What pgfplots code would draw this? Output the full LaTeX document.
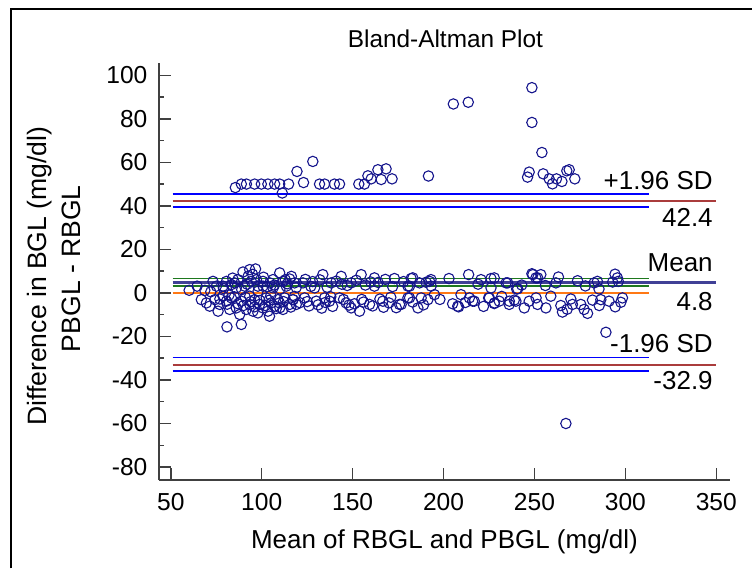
\documentclass[border=0pt]{standalone}
\usepackage{fontspec}
\setmainfont{Liberation Sans}
\usepackage{pgfplots}
\pgfplotsset{compat=1.18}
\definecolor{ptcol}{RGB}{20,20,140}
\definecolor{loacol}{RGB}{170,60,60}
\definecolor{cicol}{RGB}{0,0,255}
\definecolor{mcicol}{RGB}{30,120,30}
\definecolor{meancol}{RGB}{64,64,150}
\definecolor{zerocol}{RGB}{255,120,20}
\definecolor{axcol}{RGB}{64,64,64}
\begin{document}
\begin{tikzpicture}
\begin{scope}[x=0.5pt,y=-0.5pt]
\useasboundingbox (0,0) rectangle (753,569);
\end{scope}
\begin{axis}[
  at={(79.5pt,-240.35pt)}, anchor=south west,
  scale only axis, width=285.85pt, height=209pt,
  xmin=43.4, xmax=357.4, ymin=-86, ymax=105.8,
  axis lines=left, axis line style={-, draw=axcol, line width=0.75pt},
  tick align=inside, major tick length=6pt, minor tick length=2.5pt,
  tick style={draw=axcol, line width=0.75pt},
  xtick={50,100,150,200,250,300,350}, xticklabels={50,100,150,200,250,300,350},
  ytick={-80,-60,-40,-20,0,20,40,60,80,100}, yticklabels={-80,-60,-40,-20,0,20,40,60,80,100},
  minor ytick={-70,-50,-30,-10,10,30,50,70,90},
  xticklabel style={font=\fontsize{12.3}{14}\selectfont, anchor=north, inner sep=0pt, yshift=-6.3pt},
  yticklabel style={font=\fontsize{12.3}{14}\selectfont, anchor=east, inner sep=0pt, xshift=-5.5pt},
  clip=false,
]
% data points
\addplot[only marks, mark=o, mark size=2.6pt, mark options={draw=ptcol, line width=0.55pt}] coordinates {
(85.5,48.4)(88.8,50)(91.6,50)(96.1,50)(99.8,50)(103.4,50)(107.1,50)(109.9,50)(111.3,45.9)(114.8,50)
(119.4,55.8)(123,50.7)(128.1,60.4)(131.8,50)(134.6,50)(140,50)(142.8,50)(153.4,50)(156.5,50)(158.4,53.8)
(160.2,52.4)(163.9,56.6)(168.4,57)(165.7,52.1)(171.7,52.4)(191.7,53.7)(205.4,86.8)(213.6,87.6)(248.6,94.3)(248.6,78.3)
(254.1,64.5)(247.1,55.5)(246.2,53.2)(254.8,54.7)(258.1,52.4)(259.9,50.1)(262.1,52.4)(265.1,51.2)(267.8,56.1)(269.1,56.6)
(272.2,52.4)(289.3,-18.1)(267.3,-60)(80.9,-15.6)(88.8,-14.5)
(116.3,7.6)(122.7,4.6)(129.1,2.3)(133.6,8.4)(138.2,4.6)(143.7,7.6)(149.2,4.6)(154.7,8.4)(162,6.9)(162,3.1)
(173,6.6)(182.2,6.6)(180.4,3.1)(190.4,4.9)(193.1,6.1)(213.8,8.4)(220.6,6.1)(226.1,6.6)(226.1,2.3)(234.4,4.6)
(240.8,1.9)(249.1,8.4)(251.8,6.9)
(117.2,-3.1)(123.6,-2.3)(130,-3.8)(134.6,-2.3)(137.3,-3.8)(142.8,-2.3)(146.4,-4.6)(149.2,-6.9)(153.8,-8.4)(159.3,-5.3)
(166.6,-3.8)(175.8,-5.3)(180.4,-2.3)(185.9,-6.9)(187.7,-2.3)(195,-0.8)(207.8,-6.1)(209.6,-0.8)(216,-3.8)(225.2,-2.3)
(228,-4.6)(236.2,-3.8)(239.8,-3.8)(244.4,-6.9)(250.9,-2.3)
(183.1,6.9)(181.3,3.1)(186.8,4.6)(192.3,5.3)(193.2,3.1)(227.9,6.9)(235.3,4.6)(240.2,1.8)(248.6,8.8)(250.8,6.9)
(253.5,8.4)(261.8,4.6)(263.2,7.3)(273.7,5.6)(282.8,4.6)(284.6,5.3)(285.5,1.8)(294.3,8.6)(295.6,6.9)(296.1,5.3)
(176.7,-5.3)(181.3,-2.3)(191.4,-3.1)(208.3,-6.4)(214.2,-2.3)(216.9,-3.8)(224.8,-2.3)(227.9,-4.9)(230.6,-3.8)(236.1,-5.3)
(238.9,-3.3)(247.1,-3.8)(251.7,-5.3)(256.3,-6.9)(259,-1.5)(264.5,-5.8)(265.4,-8.8)(270,-2.8)(270.9,-5.3)(275.5,-5.3)
(277.3,-7.6)(279.2,-9.4)(281.9,-3.3)(286.5,-3.1)(285.6,-5.8)(294.4,-6.4)(297.5,-4.3)(298.4,-2.3)
(60.1,1.2)(64.5,3.1)(68.7,1.2)(73.2,5.3)(75.1,3.1)(78.7,3.1)(80.6,5.3)(83.3,3.8)(85.1,4.6)(86.9,6.1)
(89.7,9.6)(93.4,10.7)(96.6,11)(92.5,7.6)(94.3,5.3)(97.1,6.1)(100.7,5.3)(100.7,3.1)(104.4,4.6)(106.2,6.1)
(109.9,9.2)(111.7,5.3)(115.4,6.4)(118.1,4.6)(86,2.3)(90.6,3.1)(97.9,3.1)(106.2,2.3)(113.5,3.1)
(66.8,-3.1)(69.6,-4.6)(71.4,-6.1)(74.2,-3.1)(76,-8.4)(76.9,-5.3)(78.7,-1.5)(80.6,-3.8)(82.4,-7.6)(83.3,-2.3)
(86,-6.9)(87.9,-9.9)(88.8,-3.8)(91.5,-7.6)(93.4,-5.3)(93.4,-1.5)(95.2,-8.4)(96.1,-3.1)(97.9,-9.2)(98.8,-5.3)
(100.7,-6.9)(102.5,-2.3)(103.4,-8.4)(104.3,-10.7)(105.2,-4.6)(107.1,-6.1)(108.9,-3.1)(109.8,-4.6)(111.7,-7.6)(112.6,-2.3)
(115.4,-5.3)(119,-5.3)(117.2,-3.1)
(79,2.0)(82,-1.0)(84,6.8)(87,-5.0)(89,1.5)(91,-2.0)(92,4.0)(94,-4.0)(95,8.5)(98,0.8)
(99,-3.5)(101,7.2)(102,-5.8)(103,2.8)(105,-1.2)(107,3.6)(108,-7.2)(110,1.8)(112,-4.0)(114,4.2)
(116,-6.5)(119,2.5)(121,-4.5)(124,6.2)(126,-6.0)(127,3.0)(131,-5.5)(132,6.0)(135,-4.4)(136,2.6)
(139,-6.2)(141,5.4)(145,-3.0)(147,3.4)(151,-5.0)(152,5.8)(156,-4.2)(157,3.6)(161,-6.0)(164,4.8)
(165,-2.8)(168,6.2)(170,-4.6)(172,2.9)(174,-6.8)(178,5.2)(183,-4.2)(189,-5.5)(198,-3.0)(203,6.6)
(205,-5.0)(212,-4.4)(219,4.0)(222,-6.2)(232,-1.6)(243,3.6)(256,3.4)(268,-7.5)(278,3.2)(291,-3.8)(293,5.0)
(72,0.5)(77,-2.8)(81,-5.2)(85,-1.8)(90,-5.8)(96,-6.4)(104,-3.4)(110,-6.8)(113,6.0)(118,-1.6)
(125,-4.0)(128,5.2)(133,-7.0)(138,-1.8)(144,4.0)(148,-5.6)(155,-3.0)(160,5.0)(167,-6.6)(171,-2.0)
};
% reference lines
\addplot[zerocol, line width=0.6pt] coordinates {(51,0)(313,0)};
\addplot[mcicol, line width=0.6pt] coordinates {(51,6.5)(313,6.5)};
\addplot[mcicol, line width=0.6pt] coordinates {(51,3.2)(313,3.2)};
\addplot[meancol, line width=1.3pt] coordinates {(51,4.8)(350,4.8)};
\addplot[cicol, line width=0.7pt] coordinates {(51,45.4)(313,45.4)};
\addplot[cicol, line width=0.7pt] coordinates {(51,39.5)(313,39.5)};
\addplot[loacol, line width=1pt] coordinates {(51,42.4)(350,42.4)};
\addplot[cicol, line width=0.7pt] coordinates {(51,-29.8)(313,-29.8)};
\addplot[cicol, line width=0.7pt] coordinates {(51,-35.9)(313,-35.9)};
\addplot[loacol, line width=1pt] coordinates {(51,-32.9)(350,-32.9)};
\end{axis}
\begin{scope}[x=0.5pt,y=-0.5pt]
\draw[line width=1pt, black] (11,569) -- (11,9.5) -- (753,9.5);
\node[anchor=base, inner sep=0pt, font=\fontsize{12.2}{14}\selectfont] at (446,47.3) {Bland-Altman Plot};
\node[anchor=base, inner sep=0pt, font=\fontsize{13}{15}\selectfont] at (445,549) {Mean of RBGL and PBGL (mg/dl)};
\node[rotate=90, inner sep=0pt, font=\fontsize{13.3}{15}\selectfont] at (40,276.5) {Difference in BGL (mg/dl)};
\node[rotate=90, inner sep=0pt, font=\fontsize{13.3}{15}\selectfont] at (71.7,269) {PBGL - RBGL};
\begin{scope}[every node/.style={anchor=base east, inner sep=0pt, font=\fontsize{13}{15}\selectfont}]
\node at (714,190) {+1.96 SD};
\node at (714,226.7) {42.4};
\node at (714,272.3) {Mean};
\node at (714,310.7) {4.8};
\node at (714,353.3) {-1.96 SD};
\node at (714,390) {-32.9};
\end{scope}
\end{scope}
\end{tikzpicture}
\end{document}
